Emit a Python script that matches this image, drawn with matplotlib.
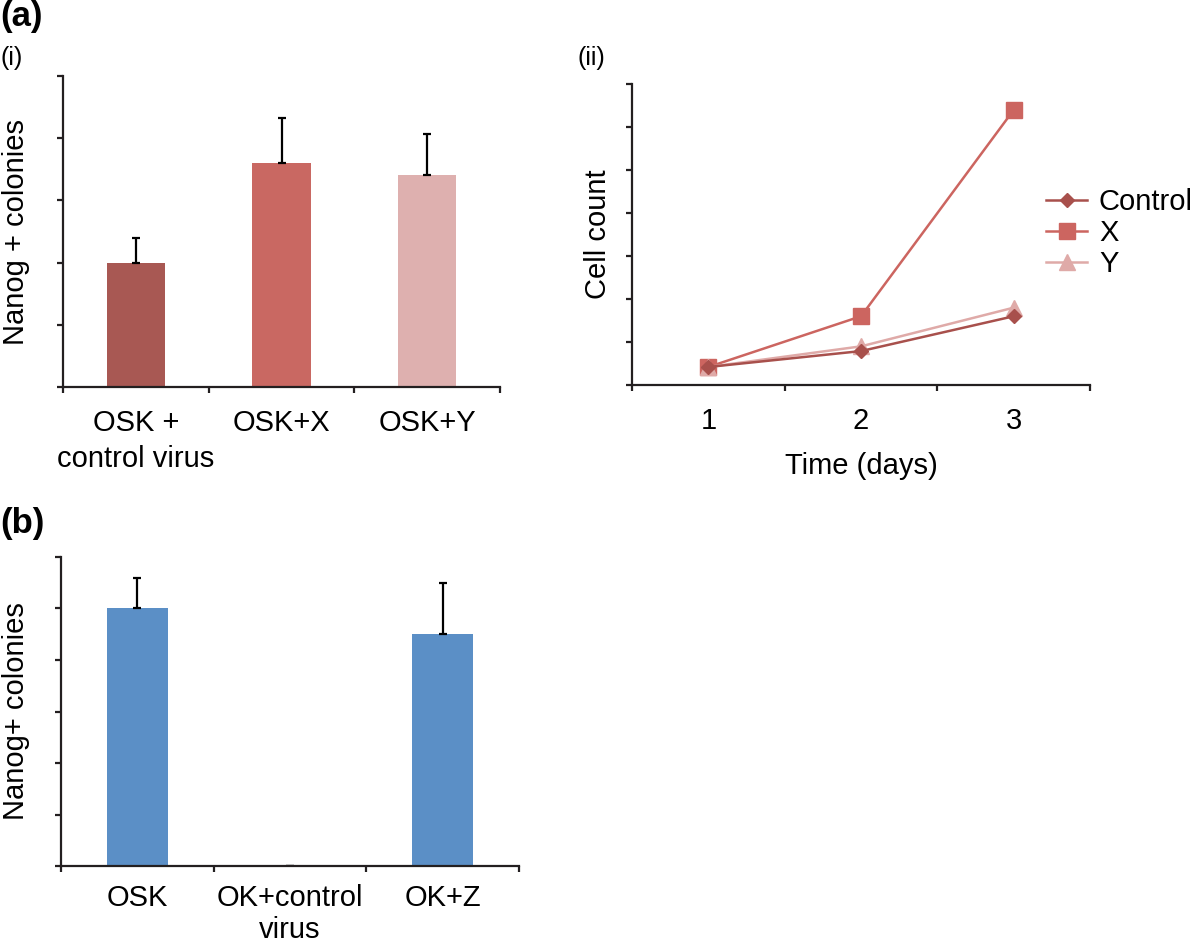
import matplotlib
matplotlib.use("Agg")
from matplotlib import pyplot as plt
import numpy as np

plt.rcParams['font.family'] = ['Liberation Sans', 'DejaVu Sans']

# (a)(i) Nanog+ colonies
groups_a = ['OSK +\ncontrol virus', 'OSK+X', 'OSK+Y']
values_a = [2.0, 3.6, 3.41]
errors_a = [0.4, 0.72, 0.66]
colors_a = ['#A85853', '#C96862', '#DEB0AF']

# (a)(ii) cell count over time
days = [1, 2, 3]
control = [0.42, 0.79, 1.6]
x_virus = [0.42, 1.6, 6.4]
y_virus = [0.42, 0.9, 1.8]

# (b) Nanog+ colonies
groups_b = ['OSK', 'OK+control\nvirus', 'OK+Z']
values_b = [5.0, 0.0, 4.5]
errors_b = [0.6, 0.0, 1.0]
color_b = '#5B8FC6'

fs = 21
axis_col = '#231F20'

fig = plt.figure(figsize=(12, 9.5), dpi=100)


def style_axes(ax):
    for s in ['top', 'right']:
        ax.spines[s].set_visible(False)
    for s in ['left', 'bottom']:
        ax.spines[s].set_linewidth(1.6)
        ax.spines[s].set_color(axis_col)
    ax.tick_params(axis='both', which='major', direction='out', length=4,
                   width=1.6, color=axis_col, labelsize=fs)
    ax.set_yticklabels([])


def bar_panel(ax, labels, vals, errs, cols, ymax, lsp=1.35, pad=16):
    pos = np.arange(len(labels))
    ax.bar(pos, vals, width=0.4, color=cols, zorder=2,
           yerr=[np.zeros(len(errs)), errs],
           error_kw=dict(ecolor='black', elinewidth=1.6, capsize=3, capthick=1.6))
    ax.set_xlim(-0.5, len(labels) - 0.5)
    ax.set_ylim(0, ymax)
    ax.set_yticks(np.arange(0, ymax + 0.1, 1))
    ax.set_xticks(np.arange(len(labels) + 1) - 0.5)
    ax.set_xticklabels([])
    ax.set_xticks(pos, minor=True)
    ax.set_xticklabels(labels, minor=True, fontsize=fs, linespacing=lsp, va='top')
    ax.tick_params(axis='x', which='minor', length=0, pad=pad)
    style_axes(ax)


# panel (a)(i)
ax1 = fig.add_axes([0.0525, 0.5926, 0.3642, 0.3274])
bar_panel(ax1, groups_a, values_a, errors_a, colors_a, 5)
ax1.set_ylabel('Nanog + colonies', fontsize=fs)
ax1.yaxis.set_label_coords(-0.076, 0.5)

# panel (a)(ii)
ax2 = fig.add_axes([0.5267, 0.5947, 0.3817, 0.3168])
ax2.plot(days, control, color='#A8504C', marker='D', markersize=7, lw=1.8, label='Control', zorder=3)
ax2.plot(days, x_virus, color='#CC6560', marker='s', markersize=11, lw=1.8, label='X', zorder=2)
ax2.plot(days, y_virus, color='#DFAAA8', marker='^', markersize=11, lw=1.8, label='Y', zorder=2)
ax2.set_xlim(0.5, 3.5)
ax2.set_ylim(0, 7)
ax2.set_yticks(np.arange(0, 8, 1))
ax2.set_xticks([0.5, 1.5, 2.5, 3.5])
ax2.set_xticklabels([])
ax2.set_xticks(days, minor=True)
ax2.set_xticklabels([str(d) for d in days], minor=True)
ax2.tick_params(axis='x', which='minor', length=0, pad=16, labelsize=fs)
style_axes(ax2)
ax2.set_xlabel('Time (days)', fontsize=fs, labelpad=12)
ax2.set_ylabel('Cell count', fontsize=fs)
ax2.yaxis.set_label_coords(-0.044, 0.5)
ax2.legend(loc='upper left', bbox_to_anchor=(0.872, 0.802), bbox_transform=fig.transFigure,
           frameon=False, fontsize=21, handlelength=1.4, handletextpad=0.4,
           labelspacing=0.1, borderaxespad=0, borderpad=0)

# panel (b)
ax3 = fig.add_axes([0.0508, 0.0884, 0.3817, 0.3253])
bar_panel(ax3, groups_b, values_b, errors_b, [color_b] * 3, 6, lsp=1.2, pad=13)
ax3.set_ylabel('Nanog+ colonies', fontsize=fs)
ax3.yaxis.set_label_coords(-0.068, 0.5)

fig.text(0.0, 1.0, '(a)', fontsize=25, fontweight='bold', va='top', ha='left')
fig.text(0.0, 0.952, '(i)', fontsize=18, va='top', ha='left')
fig.text(0.481, 0.952, '(ii)', fontsize=18, va='top', ha='left')
fig.text(0.0, 0.466, '(b)', fontsize=25, fontweight='bold', va='top', ha='left')

fig.savefig('out.png', dpi=100)
